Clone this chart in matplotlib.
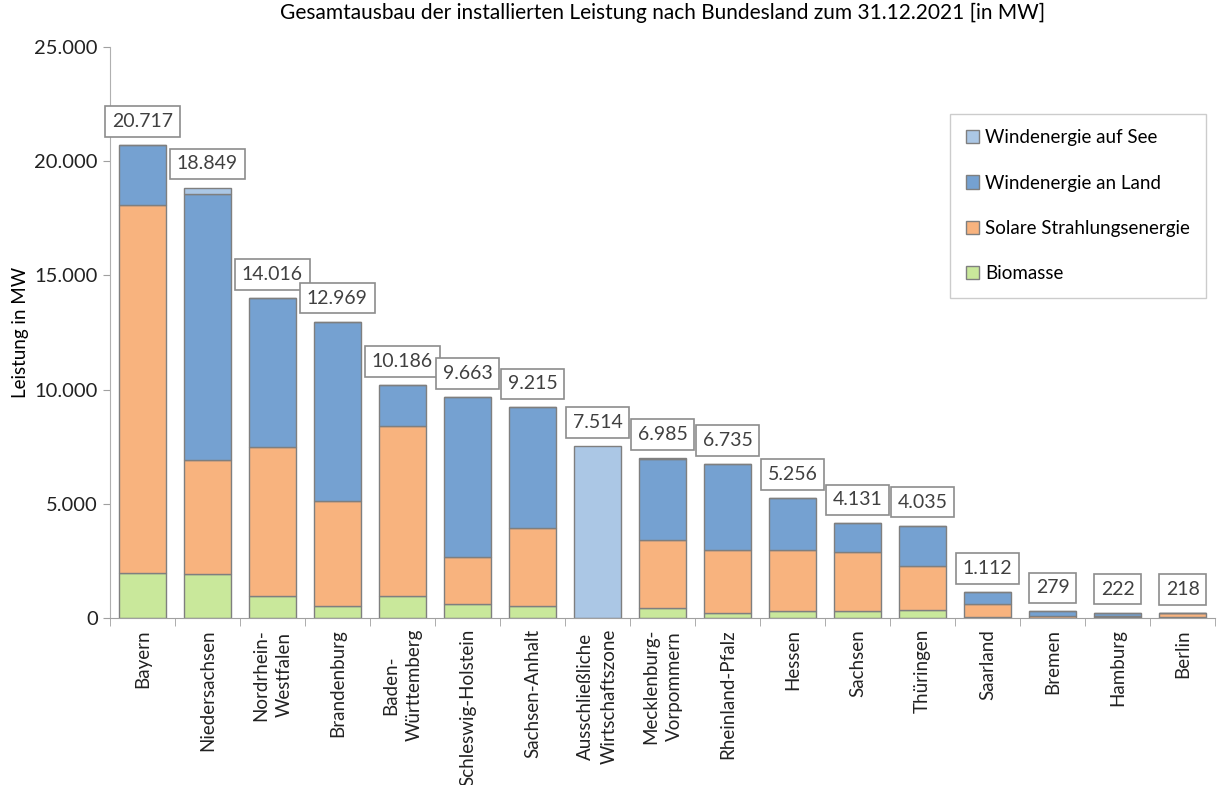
import numpy as np
import matplotlib
matplotlib.use('Agg')
import matplotlib.pyplot as plt
from matplotlib.ticker import FuncFormatter

plt.rcParams['font.family'] = ['Lato', 'DejaVu Sans']

# Bundeslaender (in chart order)
laender = ['Bayern', 'Niedersachsen', 'Nordrhein-\nWestfalen', 'Brandenburg',
           'Baden-\nWürttemberg', 'Schleswig-Holstein', 'Sachsen-Anhalt',
           'Ausschließliche\nWirtschaftszone', 'Mecklenburg-\nVorpommern',
           'Rheinland-Pfalz', 'Hessen', 'Sachsen', 'Thüringen', 'Saarland',
           'Bremen', 'Hamburg', 'Berlin']

# installed capacity in MW
biomasse = [1950, 1900, 960, 520, 960, 610, 520, 0, 430, 220, 300, 300, 330, 40, 10, 40, 30]
solar = [16150, 5000, 6530, 4600, 7440, 2060, 3420, 0, 2990, 2760, 2680, 2590, 1950, 570, 60, 60, 180]
wind_land = [2617, 11650, 6526, 7849, 1786, 6993, 5275, 0, 3515, 3755, 2276, 1241, 1755, 502, 209, 122, 8]
wind_see = [0, 299, 0, 0, 0, 0, 0, 7514, 50, 0, 0, 0, 0, 0, 0, 0, 0]
gesamt = [20717, 18849, 14016, 12969, 10186, 9663, 9215, 7514, 6985, 6735,
          5256, 4131, 4035, 1112, 279, 222, 218]

fig, ax = plt.subplots(figsize=(12.2, 7.85), dpi=100)
fig.subplots_adjust(left=0.090, right=0.996, bottom=0.213, top=0.940)

x = np.arange(len(laender))
w = 0.72
edge = '#7f7f7f'

b = np.zeros(len(laender))
serien = [('Biomasse', biomasse, '#c9e89b'),
          ('Solare Strahlungsenergie', solar, '#f8b37e'),
          ('Windenergie an Land', wind_land, '#75a1d1'),
          ('Windenergie auf See', wind_see, '#abc7e5')]
handles = {}
for name, vals, col in serien:
    vals = np.array(vals, dtype=float)
    h = ax.bar(x, vals, w, bottom=b, color=col, edgecolor=edge, linewidth=1, label=name)
    handles[name] = h
    b += vals

for xi, g in zip(x, gesamt):
    txt = f'{g:,}'.replace(',', '.')
    ax.annotate(txt, (xi, g), xytext=(0, 17), textcoords='offset points',
                ha='center', va='center', fontsize=14, color='#404040',
                bbox=dict(boxstyle='square,pad=0.35', fc='white', ec='#8c8c8c', lw=1.2))

ax.set_xlim(-0.5, len(laender) - 0.5)
ax.set_ylim(0, 25000)
ax.set_yticks(np.arange(0, 25001, 5000))
ax.yaxis.set_major_formatter(FuncFormatter(lambda v, p: f'{int(v):,}'.replace(',', '.')))
ax.tick_params(axis='y', labelsize=14.5, length=5, color='#a0a0a0', labelcolor='#222222')

ax.set_xticks(x)
ax.set_xticklabels(laender, rotation=90, fontsize=13.5, ha='center', va='top',
                   multialignment='center', color='#222222', linespacing=1.45)
ax.tick_params(axis='x', length=0, pad=8)
ax.set_xticks(np.arange(-0.5, len(laender), 1), minor=True)
ax.tick_params(axis='x', which='minor', length=6, color='#a0a0a0')

for s in ['top', 'right']:
    ax.spines[s].set_visible(False)
ax.spines['left'].set_color('#b0b0b0')
ax.spines['bottom'].set_color('#a0a0a0')

ax.set_ylabel('Leistung in MW', fontsize=13.5, labelpad=4)
ax.set_title('Gesamtausbau der installierten Leistung nach Bundesland zum 31.12.2021 [in MW]',
             fontsize=15, pad=20)

order = ['Windenergie auf See', 'Windenergie an Land', 'Solare Strahlungsenergie', 'Biomasse']
leg = ax.legend([handles[n] for n in order], order, loc='upper right',
                bbox_to_anchor=(1.0, 0.9), fontsize=13.5, frameon=True, fancybox=False,
                edgecolor='#c0c0c0', labelspacing=1.5, handlelength=0.7, handleheight=0.7,
                handletextpad=0.3, borderpad=0.85)
leg.get_frame().set_linewidth(1)

fig.savefig('out.png', dpi=100)
